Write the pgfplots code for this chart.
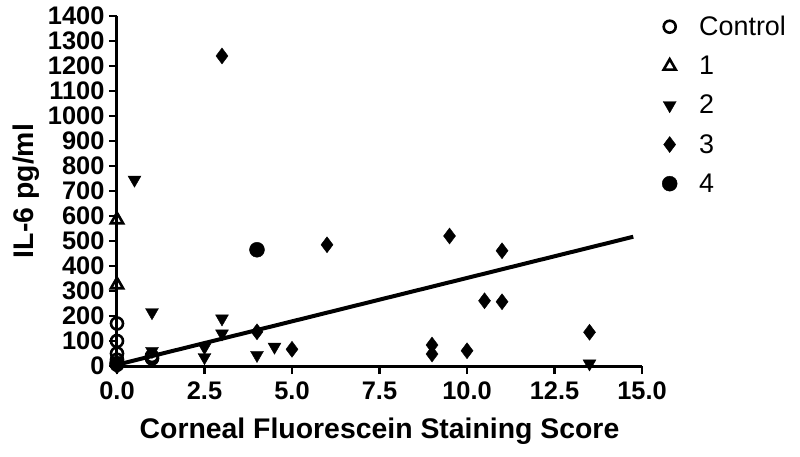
\documentclass[border=0pt]{standalone}
\usepackage{fontspec}
\setmainfont{Liberation Sans}
\usepackage{pgfplots}
\pgfplotsset{compat=1.18}
\begin{document}
\begin{tikzpicture}
\useasboundingbox (-117bp,-91bp) rectangle (683bp,366bp);
\begin{axis}[
  at={(0,0)}, anchor=south west,
  scale only axis, width=525bp, height=350bp,
  xmin=0, xmax=15, ymin=0, ymax=1400,
  axis x line=bottom, axis y line=left,
  axis line style={-, line width=3bp},
  clip=false,
  xtick={0,2.5,5,7.5,10,12.5,15},
  ytick={0,100,...,1400},
  tick align=outside,
  major tick length=8bp,
  tick style={line width=2.6bp, black},
  /pgf/number format/assume math mode=true,
  xticklabel style={font=\fontsize{25.5}{28}\selectfont\bfseries, /pgf/number format/fixed, /pgf/number format/fixed zerofill, /pgf/number format/precision=1, yshift=-4bp},
  yticklabel style={font=\fontsize{25.5}{28}\selectfont\bfseries, /pgf/number format/1000 sep={}, xshift=-1bp},
  scaled ticks=false,
  xlabel={Corneal Fluorescein Staining Score},
  ylabel={IL-6 pg/ml},
  xlabel style={font=\fontsize{28.5}{30}\selectfont\bfseries, yshift=-12bp},
  ylabel style={font=\fontsize{28.5}{30}\selectfont\bfseries, yshift=2bp},
  legend style={at={(1.0,1.0)}, anchor=north west, xshift=20bp, yshift=2bp, draw=none, font=\fontsize{27}{29}\selectfont, row sep=15bp, inner sep=0pt, /tikz/every odd column/.append style={column sep=20bp}},
  legend cell align=left,
]
\addplot[only marks, mark=o, mark size=6bp, mark options={line width=2.6bp}] coordinates {
 (0,170) (0,100) (0,50) (0,25) (0,5) (1,40) (1,30)};
\addlegendentry{Control}
\addplot[only marks, mark=triangle, mark size=7bp, mark options={line width=2.6bp}] coordinates {
 (0,585) (0,325)};
\addlegendentry{1}
\addplot[only marks, mark=triangle*, mark size=7.5bp, mark options={rotate=180, fill=black}] coordinates {
 (0.5,745) (1,215) (1,60) (2.5,75) (2.5,35) (3,190) (3,130) (4,44) (4.5,77) (13.5,10) (0,20)};
\addlegendentry{2}
\addplot[only marks, mark=diamond*, mark size=8bp, mark options={fill=black}] coordinates {
 (0,0) (3,1240) (4,137) (5,67) (6,485) (9,84) (9,48) (9.5,520) (10,61) (10.5,261) (11,461) (11,257) (13.5,135)};
\addlegendentry{3}
\addplot[only marks, mark=*, mark size=7.5bp, mark options={fill=black}] coordinates {
 (4,465) (0,10)};
\addlegendentry{4}
\addplot[line width=4bp, no marks, forget plot] coordinates {(0,5) (14.75,517)};
\end{axis}
\end{tikzpicture}
\end{document}
